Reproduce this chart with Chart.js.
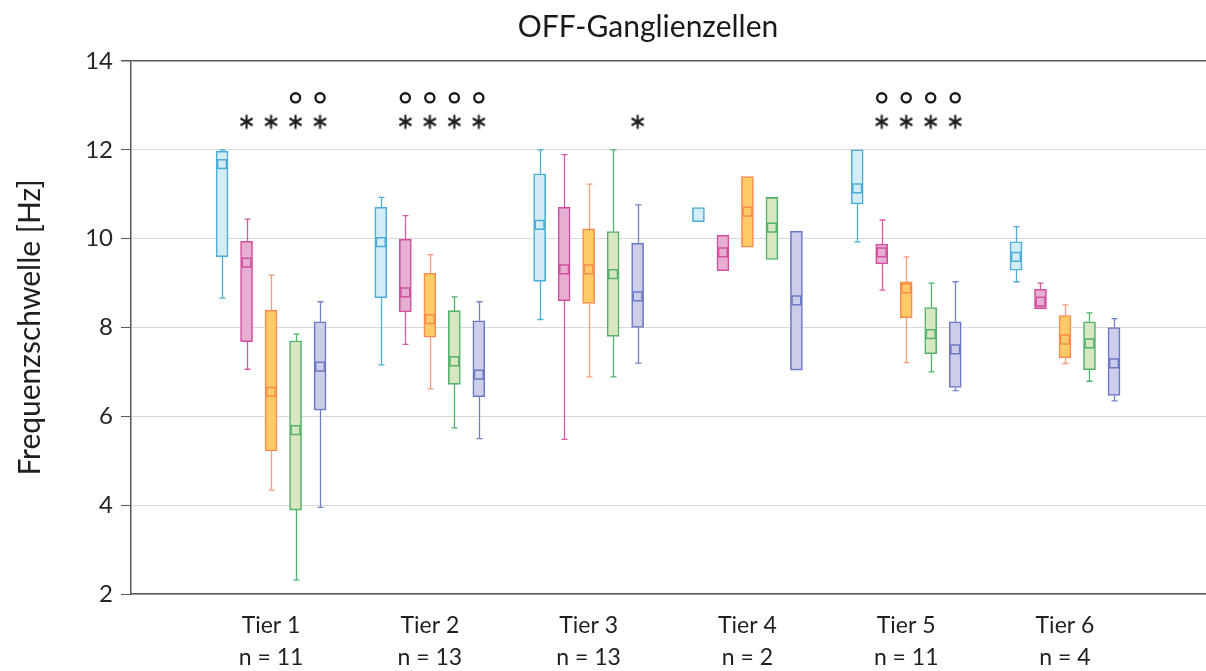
<!DOCTYPE html>
<html lang="de">
<head>
<meta charset="utf-8">
<title>OFF-Ganglienzellen</title>
<script src="https://cdn.jsdelivr.net/npm/chart.js@4.4.1/dist/chart.umd.min.js"></script>
<style>
  html, body { margin: 0; padding: 0; background: #fff; }
  #wrap { width: 1206px; height: 671px; }
</style>
</head>
<body>
<div id="wrap"><canvas id="chart" width="1206" height="671"></canvas></div>
<script>
// ========== DATA ==========

const tiers = ['Tier 1', 'Tier 2', 'Tier 3', 'Tier 4', 'Tier 5', 'Tier 6'];
const cellCounts = [11, 13, 13, 2, 11, 4];
const yTicks = [2, 4, 6, 8, 10, 12, 14];

// one row per tier: [min, q1, q3, max]
const cyanBox = [
    [8.66, 9.59, 11.97, 12.00],
    [7.16, 8.67, 10.71, 10.93],
    [8.18, 9.04, 11.46, 12.00],
    [10.38, 10.38, 10.70, 10.70],
    [9.93, 10.78, 12.00, 12.00],
    [9.03, 9.29, 9.93, 10.27]
];
const magentaBox = [
    [7.06, 7.68, 9.94, 10.44],
    [7.62, 8.35, 9.99, 10.52],
    [5.48, 8.60, 10.71, 11.89],
    [9.28, 9.28, 10.08, 10.08],
    [8.84, 9.43, 9.88, 10.42],
    [8.42, 8.42, 8.86, 9.00]
];
const orangeBox = [
    [4.34, 5.22, 8.39, 9.18],
    [6.62, 7.78, 9.22, 9.64],
    [6.89, 8.54, 10.22, 11.23],
    [9.81, 9.81, 11.40, 11.40],
    [7.21, 8.22, 9.03, 9.59],
    [7.19, 7.32, 8.27, 8.51]
];
const greenBox = [
    [2.32, 3.89, 7.70, 7.85],
    [5.74, 6.72, 8.38, 8.69],
    [6.89, 7.80, 10.16, 12.00],
    [9.53, 9.53, 10.93, 10.93],
    [7.00, 7.41, 8.45, 9.00],
    [6.79, 7.05, 8.13, 8.33]
];
const purpleBox = [
    [3.95, 6.14, 8.13, 8.58],
    [5.50, 6.44, 8.15, 8.58],
    [7.20, 8.00, 9.90, 10.76],
    [7.04, 7.04, 10.17, 10.17],
    [6.58, 6.65, 8.13, 9.03],
    [6.35, 6.47, 8.00, 8.20]
];

const cyanMean = [11.68, 9.92, 10.31, null, 11.13, 9.59];
const magentaMean = [9.46, 8.79, 9.31, 9.69, 9.69, 8.58];
const orangeMean = [6.55, 8.19, 9.31, 10.61, 8.88, 7.73];
const greenMean = [5.69, 7.24, 9.20, 10.25, 7.85, 7.64];
const purpleMean = [7.12, 6.94, 8.70, 8.61, 7.51, 7.19];

// significance marks per tier (series index 0..4)
const starMarks = [[1, 2, 3, 4], [1, 2, 3, 4], [4], [], [1, 2, 3, 4], []];
const ringMarks = [[3, 4], [1, 2, 3, 4], [], [], [1, 2, 3, 4], []];

// ========== STYLE ==========

const FONT = 'Lato';
const SLOT = 0.1543;       // spacing between boxes inside a tier (x units)
const STAR_LEVEL = 12.63;
const RING_LEVEL = 13.17;

const series = [
    { box: cyanBox,    mean: cyanMean,    fill: '#d3ecf6', border: '#4aaed8', whisker: '#4aaed8' },
    { box: magentaBox, mean: magentaMean, fill: '#e6afd2', border: '#d2509f', whisker: '#d95aa8' },
    { box: orangeBox,  mean: orangeMean,  fill: '#ffcb66', border: '#fa8c4e', whisker: '#f99b7c' },
    { box: greenBox,   mean: greenMean,   fill: '#d8e6c1', border: '#55b26b', whisker: '#4fb368' },
    { box: purpleBox,  mean: purpleMean,  fill: '#cdcde9', border: '#6b78c6', whisker: '#7282c9' }
];

function xPos(tierIndex, seriesIndex) {
    return tierIndex + 1 + (seriesIndex - 2) * SLOT;
}

function makeAsterisk(r, lw, color) {
    const size = Math.ceil(2 * r + lw + 2);
    const c = document.createElement('canvas');
    c.width = c.height = size;
    const g = c.getContext('2d');
    g.strokeStyle = color;
    g.lineWidth = lw;
    const m = size / 2;
    for (let k = 0; k < 3; k++) {
        const a = Math.PI / 2 + k * Math.PI / 3;
        g.beginPath();
        g.moveTo(m - r * Math.cos(a), m - r * Math.sin(a));
        g.lineTo(m + r * Math.cos(a), m + r * Math.sin(a));
        g.stroke();
    }
    return c;
}

// ========== DATASETS ==========

const datasets = [];

series.forEach((s, si) => {
    datasets.push({
        type: 'bar',
        order: 2,
        data: s.box.map((row, ti) => ({ x: xPos(ti, si), y: [row[1], row[2]] })),
        backgroundColor: s.fill,
        borderColor: s.border,
        borderWidth: 1.6,
        borderSkipped: false,
        barThickness: 12,
        grouped: false
    });
});

series.forEach((s, si) => {
    datasets.push({
        type: 'scatter',
        order: 1,
        data: s.mean.map((m, ti) => (m == null ? null : { x: xPos(ti, si), y: m })).filter(Boolean),
        pointStyle: 'rect',
        pointRadius: 6.2,
        pointBorderWidth: 1.5,
        pointBorderColor: s.border,
        pointBackgroundColor: s.fill
    });
});

const starPoints = [];
starMarks.forEach((list, ti) => list.forEach(si => starPoints.push({ x: xPos(ti, si), y: STAR_LEVEL })));
const ringPoints = [];
ringMarks.forEach((list, ti) => list.forEach(si => ringPoints.push({ x: xPos(ti, si), y: RING_LEVEL })));

datasets.push({
    type: 'scatter',
    order: 0,
    data: starPoints,
    pointStyle: makeAsterisk(7, 2.1, '#1a1a1a'),
    pointRadius: 7
});
datasets.push({
    type: 'scatter',
    order: 0,
    data: ringPoints,
    pointStyle: 'circle',
    pointRadius: 4.6,
    pointBorderWidth: 2.3,
    pointBorderColor: '#1a1a1a',
    pointBackgroundColor: 'rgba(0,0,0,0)'
});

// ========== PLUGINS ==========

// whiskers with small caps, drawn behind the boxes
const whiskerPlugin = {
    id: 'whiskers',
    beforeDatasetsDraw(chart) {
        const ctx = chart.ctx;
        const yScale = chart.scales.y;
        ctx.save();
        series.forEach((s, si) => {
            const meta = chart.getDatasetMeta(si);
            meta.data.forEach((bar, ti) => {
                const [min, q1, q3, max] = s.box[ti];
                const x = Math.round(bar.x) + 0.5;
                ctx.strokeStyle = s.whisker;
                ctx.lineWidth = 1.3;
                const segs = [];
                if (max > q3) segs.push([q3, max]);
                if (min < q1) segs.push([q1, min]);
                segs.forEach(([from, to]) => {
                    const y0 = yScale.getPixelForValue(from);
                    const y1 = yScale.getPixelForValue(to);
                    ctx.beginPath();
                    ctx.moveTo(x, y0);
                    ctx.lineTo(x, y1);
                    ctx.moveTo(x - 3, y1);
                    ctx.lineTo(x + 3, y1);
                    ctx.stroke();
                });
            });
        });
        ctx.restore();
    }
};

const titlePlugin = {
    id: 'plotTitle',
    afterDraw(chart) {
        const ctx = chart.ctx;
        ctx.save();
        ctx.font = `30px ${FONT}`;
        ctx.fillStyle = '#1a1a1a';
        ctx.textAlign = 'center';
        ctx.textBaseline = 'middle';
        ctx.fillText('OFF-Ganglienzellen', 648, 27);
        ctx.restore();
    }
};

// ========== CHART ==========

new Chart(document.getElementById('chart').getContext('2d'), {
    data: { datasets: datasets },
    options: {
        responsive: false,
        animation: false,
        events: [],
        layout: { autoPadding: false, padding: { top: 61, right: 0, bottom: 0, left: 0 } },
        plugins: {
            legend: { display: false },
            tooltip: { enabled: false },
            title: { display: false }
        },
        scales: {
            x: {
                type: 'linear',
                offset: false,
                min: 0.118,
                max: 6.888,
                grid: { display: false, drawTicks: false, tickLength: 0 },
                border: { display: true, color: '#595959', width: 1.5 },
                afterBuildTicks: scale => {
                    scale.ticks = tiers.map((t, i) => ({ value: i + 1 }));
                },
                afterFit: scale => {
                    scale.height = 77;
                    scale.paddingLeft = 0;
                    scale.paddingRight = 0;
                },
                ticks: {
                    autoSkip: false,
                    maxRotation: 0,
                    padding: 16,
                    color: '#1f1f1f',
                    font: { family: FONT, size: 23, lineHeight: 1.38 },
                    callback: value => [tiers[value - 1], 'n = ' + cellCounts[value - 1]]
                }
            },
            y: {
                type: 'linear',
                min: yTicks[0],
                max: yTicks[yTicks.length - 1],
                afterBuildTicks: scale => {
                    scale.ticks = yTicks.map(v => ({ value: v }));
                },
                afterFit: scale => { scale.width = 131; },
                grid: {
                    color: ctx => (ctx.tick && ctx.tick.value === 14 ? '#595959' : '#d9d9d9'),
                    lineWidth: ctx => (ctx.tick && ctx.tick.value === 14 ? 1.5 : 1),
                    tickColor: '#595959',
                    tickLength: 10
                },
                border: { color: '#595959', width: 1.5 },
                ticks: {
                    padding: 8,
                    color: '#262626',
                    font: { family: FONT, size: 24 }
                },
                title: {
                    display: true,
                    text: 'Frequenzschwelle [Hz]',
                    color: '#1f1f1f',
                    font: { family: FONT, size: 30 },
                    padding: { top: 12, bottom: 0 }
                }
            }
        }
    },
    plugins: [whiskerPlugin, titlePlugin]
});
</script>
</body>
</html>
